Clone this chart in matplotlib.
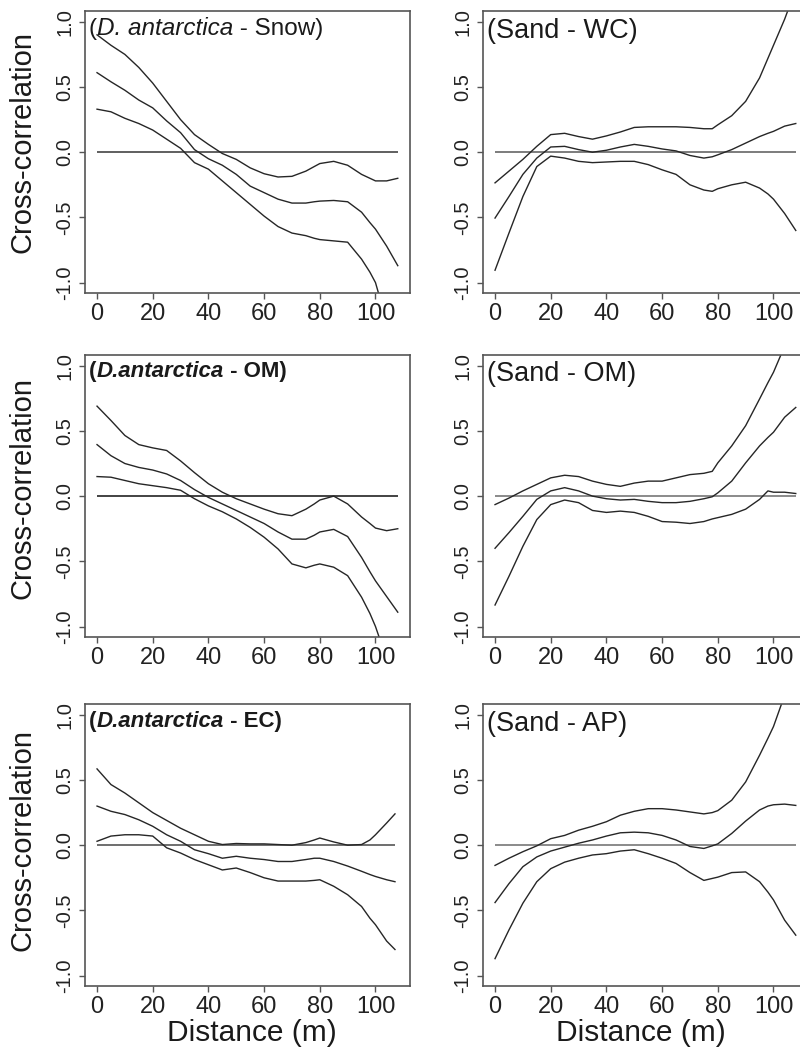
import matplotlib
matplotlib.use("Agg")
import matplotlib.pyplot as plt

plt.rcParams["font.family"] = ["Liberation Sans", "DejaVu Sans"]

# ── data ─────────────────────────────────────────────────────────────────────
DIST = [0, 5, 10, 15, 20, 25, 30, 35, 40, 45, 50, 55, 60, 65, 70, 75, 78, 80,
        85, 90, 95, 98, 100, 104, 108]
DIST_EC = DIST[:-1] + [107]

snow_up = [0.90, 0.82, 0.75, 0.65, 0.53, 0.39, 0.25, 0.135, 0.06, -0.01, -0.055, -0.12, -0.165,
           -0.19, -0.185, -0.145, -0.11, -0.087, -0.07, -0.10, -0.17, -0.20, -0.22, -0.22, -0.20]
snow_mid = [0.61, 0.54, 0.475, 0.40, 0.34, 0.24, 0.15, 0.02, -0.05, -0.10, -0.17, -0.26, -0.31,
            -0.36, -0.39, -0.39, -0.38, -0.375, -0.37, -0.38, -0.46, -0.54, -0.59, -0.72, -0.87]
snow_low = [0.33, 0.31, 0.26, 0.22, 0.17, 0.10, 0.03, -0.08, -0.13, -0.22, -0.31, -0.40, -0.49,
            -0.57, -0.62, -0.64, -0.66, -0.67, -0.68, -0.69, -0.82, -0.92, -1.0, -1.3, -1.6]

wc_up = [-0.235, -0.145, -0.055, 0.045, 0.135, 0.145, 0.12, 0.10, 0.125, 0.155, 0.19, 0.195, 0.195,
         0.195, 0.19, 0.18, 0.18, 0.21, 0.28, 0.39, 0.57, 0.72, 0.82, 1.02, 1.25]
wc_mid = [-0.505, -0.34, -0.17, -0.045, 0.04, 0.045, 0.02, 0.0, 0.015, 0.04, 0.06, 0.045, 0.025,
          0.01, -0.025, -0.045, -0.035, -0.02, 0.02, 0.07, 0.12, 0.145, 0.16, 0.20, 0.22]
wc_low = [-0.905, -0.62, -0.34, -0.11, -0.03, -0.045, -0.07, -0.08, -0.075, -0.07, -0.07, -0.095,
          -0.135, -0.17, -0.25, -0.29, -0.30, -0.28, -0.25, -0.23, -0.275, -0.32, -0.36, -0.47, -0.60]

om_up = [0.69, 0.58, 0.465, 0.395, 0.37, 0.35, 0.27, 0.18, 0.095, 0.03, -0.02, -0.06, -0.10,
         -0.135, -0.15, -0.10, -0.06, -0.03, 0.0, -0.06, -0.16, -0.21, -0.245, -0.265, -0.25]
om_mid = [0.395, 0.31, 0.25, 0.22, 0.20, 0.17, 0.12, 0.05, -0.01, -0.06, -0.11, -0.16, -0.21,
          -0.275, -0.33, -0.33, -0.30, -0.275, -0.255, -0.31, -0.47, -0.58, -0.65, -0.77, -0.89]
om_low = [0.15, 0.145, 0.12, 0.095, 0.08, 0.065, 0.045, -0.02, -0.075, -0.12, -0.175, -0.24, -0.315,
          -0.405, -0.52, -0.55, -0.53, -0.52, -0.545, -0.61, -0.775, -0.90, -1.0, -1.25, -1.5]

som_up = [-0.065, -0.015, 0.04, 0.09, 0.14, 0.16, 0.15, 0.115, 0.09, 0.075, 0.10, 0.115, 0.115,
          0.14, 0.165, 0.175, 0.19, 0.255, 0.385, 0.54, 0.745, 0.87, 0.95, 1.15, 1.35]
som_mid = [-0.40, -0.28, -0.155, -0.025, 0.04, 0.065, 0.04, 0.0, -0.02, -0.03, -0.025, -0.04, -0.05,
           -0.05, -0.04, -0.02, -0.005, 0.025, 0.115, 0.255, 0.385, 0.45, 0.49, 0.605, 0.68]
som_low = [-0.835, -0.615, -0.385, -0.18, -0.065, -0.03, -0.05, -0.11, -0.125, -0.115, -0.125, -0.155,
           -0.195, -0.20, -0.21, -0.195, -0.175, -0.165, -0.14, -0.10, -0.025, 0.04, 0.03, 0.03, 0.02]

ec_up = [0.585, 0.465, 0.40, 0.325, 0.25, 0.19, 0.13, 0.08, 0.03, 0.005, 0.013, 0.01, 0.01,
         0.005, 0.0, 0.02, 0.04, 0.055, 0.025, 0.0, 0.005, 0.04, 0.08, 0.17, 0.24]
ec_mid = [0.30, 0.26, 0.235, 0.195, 0.145, 0.08, 0.03, -0.035, -0.065, -0.10, -0.085, -0.10, -0.11,
          -0.125, -0.125, -0.11, -0.10, -0.10, -0.125, -0.16, -0.20, -0.225, -0.24, -0.265, -0.28]
ec_low = [0.03, 0.07, 0.08, 0.08, 0.07, -0.02, -0.06, -0.11, -0.15, -0.19, -0.175, -0.21, -0.25,
          -0.275, -0.275, -0.275, -0.27, -0.265, -0.315, -0.38, -0.47, -0.56, -0.61, -0.735, -0.80]

ap_up = [-0.155, -0.10, -0.05, -0.005, 0.05, 0.075, 0.115, 0.145, 0.18, 0.23, 0.26, 0.28, 0.28,
         0.27, 0.255, 0.24, 0.25, 0.265, 0.345, 0.485, 0.69, 0.82, 0.91, 1.15, 1.35]
ap_mid = [-0.44, -0.295, -0.165, -0.09, -0.045, -0.015, 0.015, 0.04, 0.07, 0.095, 0.10, 0.095, 0.075,
          0.04, -0.01, -0.025, -0.005, 0.01, 0.09, 0.185, 0.27, 0.30, 0.31, 0.315, 0.305]
ap_low = [-0.87, -0.65, -0.445, -0.28, -0.18, -0.13, -0.10, -0.075, -0.065, -0.045, -0.035, -0.065,
          -0.10, -0.14, -0.21, -0.27, -0.255, -0.245, -0.21, -0.205, -0.28, -0.36, -0.42, -0.575, -0.69]

X_TICKS = [0, 20, 40, 60, 80, 100]
Y_TICKS = [-1.0, -0.5, 0.0, 0.5, 1.0]
Y_TICKLABELS = ["-1.0", "-0.5", "0.0", "0.5", "1.0"]

# ── layout ───────────────────────────────────────────────────────────────────
fig = plt.figure(figsize=(8, 10.53), dpi=100)
COL_L = [0.10625, 0.60375]
ROW_B = [0.7217, 0.3951, 0.0636]
W, H = 0.406, 0.2675
LINE = "#262626"
EDGE = "#555555"


def panel(ax, x, curves, zcol):
    for y in curves:
        ax.plot(x, y, color=LINE, lw=1.0)
    ax.hlines(0, x[0], x[-1], color=zcol, lw=1.2, zorder=1)
    ax.set_xlim(-4.32, 112.32)
    ax.set_ylim(-1.08, 1.08)
    ax.set_xticks(X_TICKS)
    ax.set_yticks(Y_TICKS)
    ax.set_yticklabels(Y_TICKLABELS, rotation=90, va="center")
    ax.tick_params(axis="x", direction="out", length=4.5, width=1, color=EDGE,
                   labelsize=17, pad=3, labelcolor="#222222")
    ax.tick_params(axis="y", direction="out", length=4.5, width=1, color=EDGE,
                   labelsize=14.5, pad=3, labelcolor="#222222")
    for s in ax.spines.values():
        s.set_color(EDGE)
        s.set_linewidth(1.2)


def label(ax, parts, size, weight="normal"):
    t = ax.text(0.012, 0.978, parts[0][0], transform=ax.transAxes, va="top", ha="left",
                fontsize=size, style=parts[0][1], weight=weight, color="#1a1a1a")
    for s, st in parts[1:]:
        t = ax.annotate(s, xy=(1, 0), xycoords=t, va="bottom", ha="left",
                        fontsize=size, style=st, weight=weight, color="#1a1a1a")


panels = [
    (0, 0, DIST, [snow_up, snow_mid, snow_low], "#444444",
     [("(", "normal"), ("D. antarctica", "italic"), (" - Snow)", "normal")], 17.5, "normal"),
    (0, 1, DIST, [wc_up, wc_mid, wc_low], "#666666",
     [("(Sand - WC)", "normal")], 19.5, "normal"),
    (1, 0, DIST, [om_up, om_mid, om_low], "#222222",
     [("(", "normal"), ("D.antarctica", "italic"), (" - OM)", "normal")], 16, "bold"),
    (1, 1, DIST, [som_up, som_mid, som_low], "#777777",
     [("(Sand - OM)", "normal")], 19.5, "normal"),
    (2, 0, DIST_EC, [ec_up, ec_mid, ec_low], "#555555",
     [("(", "normal"), ("D.antarctica", "italic"), (" - EC)", "normal")], 16, "bold"),
    (2, 1, DIST, [ap_up, ap_mid, ap_low], "#777777",
     [("(Sand - AP)", "normal")], 19.5, "normal"),
]

for r, c, x, curves, zcol, parts, size, weight in panels:
    ax = fig.add_axes([COL_L[c], ROW_B[r], W, H])
    panel(ax, x, curves, zcol)
    label(ax, parts, size, weight)

# axis titles
for yc in [142, 488, 840]:
    fig.text(23 / 800, 1 - yc / 1053, "Cross-correlation", rotation=90,
             ha="center", va="center", fontsize=21, color="#1a1a1a")
for xc in [252, 641]:
    fig.text(xc / 800, 1 - 1033 / 1053, "Distance (m)", ha="center", va="center",
             fontsize=21.5, color="#1a1a1a")

fig.savefig("out.png", dpi=100, facecolor="white")
